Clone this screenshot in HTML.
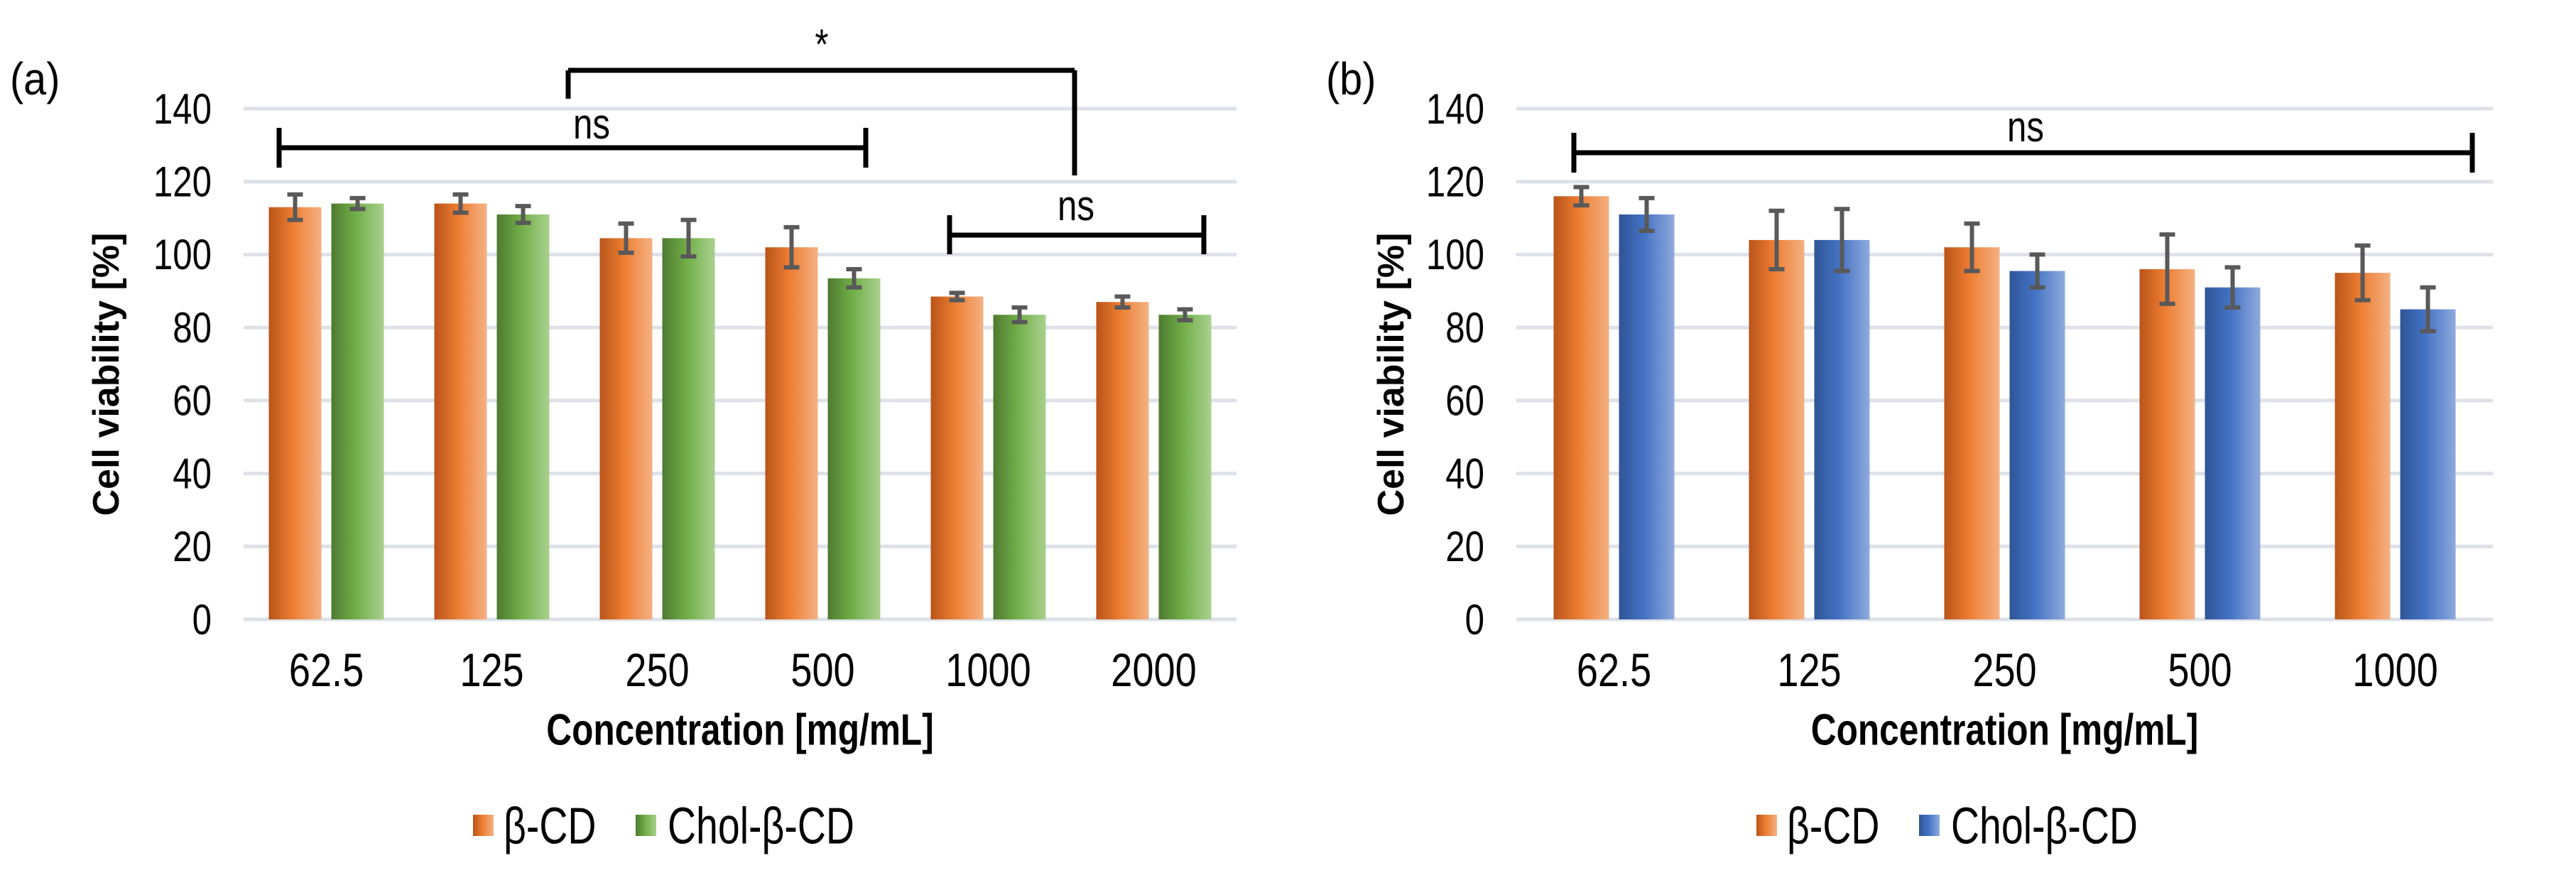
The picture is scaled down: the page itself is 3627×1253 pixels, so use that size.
<!DOCTYPE html>
<html><head><meta charset="utf-8"><style>
html,body{margin:0;padding:0;background:#fff;}
svg{display:block;font-family:"Liberation Sans",Arial,sans-serif;}
</style></head><body>
<svg id="fig" width="3627" height="1253" viewBox="0 0 3627 1253" xmlns="http://www.w3.org/2000/svg">
<defs>
<linearGradient id="gO" x1="0" x2="1" y1="0" y2="0"><stop offset="0" stop-color="#b9541a"/><stop offset="0.45" stop-color="#ed7d31"/><stop offset="1" stop-color="#f4b183"/></linearGradient>
<linearGradient id="gG" x1="0" x2="1" y1="0" y2="0"><stop offset="0" stop-color="#4e7a30"/><stop offset="0.45" stop-color="#70ad47"/><stop offset="1" stop-color="#a9d18e"/></linearGradient>
<linearGradient id="gB" x1="0" x2="1" y1="0" y2="0"><stop offset="0" stop-color="#2f5597"/><stop offset="0.45" stop-color="#4472c4"/><stop offset="1" stop-color="#8faadc"/></linearGradient>
</defs>
</svg>
<script>
const catsA = ["62.5","125","250","500","1000","2000"];
const cdA = [113, 114, 104.5, 102, 88.5, 87];
const cdErrA = [3.5, 2.5, 4, 5.5, 1, 1.5];
const cholA = [114, 111, 104.5, 93.5, 83.5, 83.5];
const cholErrA = [1.5, 2.3, 5, 2.5, 2, 1.5];
const catsB = ["62.5","125","250","500","1000"];
const cdB = [116, 104, 102, 96, 95];
const cdErrB = [2.5, 8, 6.5, 9.5, 7.5];
const cholB = [111, 104, 95.5, 91, 85];
const cholErrB = [4.5, 8.5, 4.5, 5.5, 6];
const yTicks = [0,20,40,60,80,100,120,140];

const NS="http://www.w3.org/2000/svg";
const svg=document.getElementById('fig');
function mk(tag,attrs,parent){const e=document.createElementNS(NS,tag);for(const k in attrs)e.setAttribute(k,attrs[k]);(parent||svg).appendChild(e);return e;}
function txt(s,x,y,size,opts,parent){
  opts=opts||{};
  const t=mk('text',{x:0,y:0,'font-size':size,'text-anchor':opts.anchor||'middle','dominant-baseline':'central',fill:'#000','font-weight':opts.bold?'bold':'normal',transform:`translate(${x},${y}) ${opts.rot?'rotate(-90)':''} scale(${opts.sx||0.82},1)`},parent);
  t.textContent=s;return t;
}
const y0=872, y140=153;
function yScale(v){return y0-(v/140)*(y0-y140);}

function panel(p){
  const g=mk('g',{});
  
  
  const n=p.cats.length, cw=(p.right-p.left)/n;
  const x=i=>p.left+cw*(i+0.5);
  yTicks.forEach(v=>{
    const l=mk('line',{x1:p.left,x2:p.right,y1:yScale(v),y2:yScale(v),stroke:'#dde1e8','stroke-width':5},g);
    
    
    const t=txt(String(v),p.left-45,yScale(v),60,{anchor:'end'},g);
    
    
  });
  const series=[[p.s1,p.e1,'url(#gO)',-1],[p.s2,p.e2,p.fill2,1]];
  series.forEach((s,si)=>{
    s[0].forEach((v,i)=>{
      const bx = s[3]<0 ? x(i)-p.gap/2-p.bw : x(i)+p.gap/2;
      const r=mk('rect',{x:bx,y:yScale(v),width:p.bw,height:y0-yScale(v),fill:s[2]},g);
      
      
      const cx=bx+p.bw/2, e=s[1][i];
      const eg=mk('g',{stroke:'#595959','stroke-width':6},g);
      
      
      mk('line',{x1:cx,x2:cx,y1:yScale(v+e),y2:yScale(v-e)},eg);
      mk('line',{x1:cx-11,x2:cx+11,y1:yScale(v+e),y2:yScale(v+e)},eg);
      mk('line',{x1:cx-11,x2:cx+11,y1:yScale(v-e),y2:yScale(v-e)},eg);
    });
  });
  p.cats.forEach((c,i)=>{
    const t=txt(c,x(i),943,66,{},g);
    
    
  });
  let t=txt('Concentration [mg/mL]',(p.left+p.right)/2,1027,62,{bold:true,sx:0.8},g);
  
  
  t=txt('Cell viability [%]',p.ytx,527,52,{bold:true,rot:true,sx:1},g);
  
  
  t=txt(p.label,p.labx,111,64,{anchor:'start',sx:0.9},g);
  
  
  const lg=mk('g',{},g);
  
  
  const x0=p.leg;
  let r=mk('rect',{x:x0,y:1147,width:29,height:30,fill:'url(#gO)'},lg);
  
  
  t=txt('β-CD',x0+43,1163,72,{anchor:'start',sx:0.77},lg);
  
  
  r=mk('rect',{x:x0+229,y:1147,width:29,height:30,fill:p.fill2},lg);
  
  
  t=txt('Chol-β-CD',x0+274,1163,72,{anchor:'start',sx:0.77},lg);
  
  
  return g;
}
function bracket(x1,x2,y,t1,t2,label,lx,ly,name){
  const g=mk('g',{stroke:'#000','stroke-width':7,fill:'none'});
  
  
  mk('line',{x1:x1,x2:x2,y1:y,y2:y},g);
  mk('line',{x1:x1,x2:x1,y1:t1[0],y2:t1[1]},g);
  mk('line',{x1:x2,x2:x2,y1:t2[0],y2:t2[1]},g);
  const t=txt(label,lx,ly,60,{});
  
  
}
panel({name:'panel-a',cats:catsA,s1:cdA,e1:cdErrA,s2:cholA,e2:cholErrA,fill2:'url(#gG)',left:343,right:1741,bw:74,gap:14,ytx:150,labx:14,label:'(a)',leg:666});
panel({name:'panel-b',cats:catsB,s1:cdB,e1:cdErrB,s2:cholB,e2:cholErrB,fill2:'url(#gB)',left:2135,right:3510,bw:78,gap:14,ytx:1959,labx:1867,label:'(b)',leg:2473});
bracket(393,1219,208,[180,236],[180,236],'ns',833,174,'significance-ns-a1');
bracket(1337,1695,331,[303,358],[303,358],'ns',1515,289,'significance-ns-a2');
bracket(800,1513,99,[99,139],[99,247],'*',1157,62,'significance-star-a');
bracket(2216,3481,215,[187,243],[187,243],'ns',2852,178,'significance-ns-b');
</script>
</body></html>
